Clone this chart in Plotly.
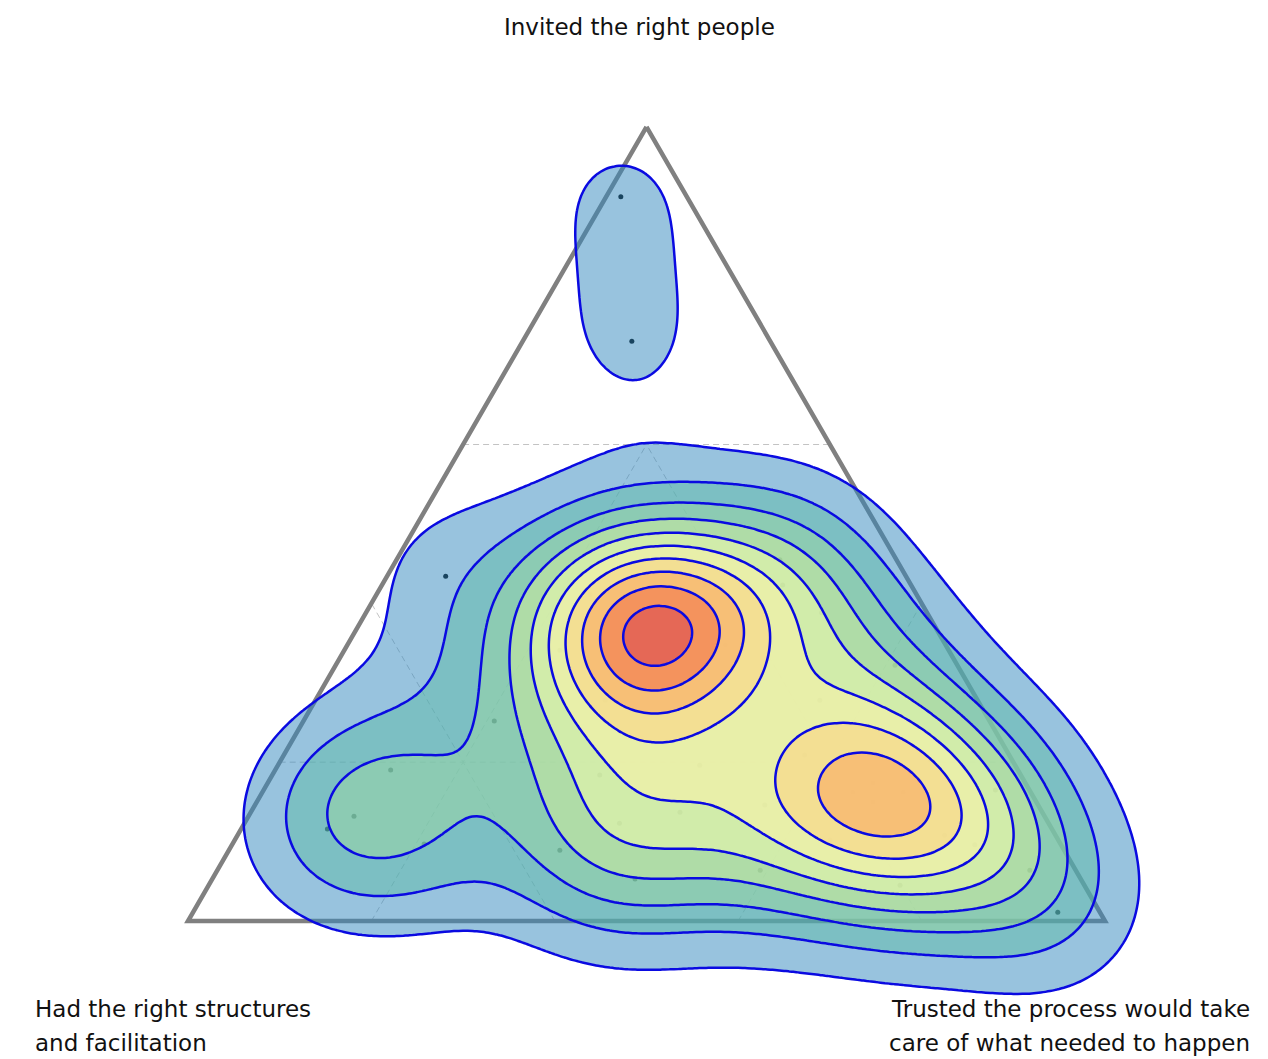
import numpy as np
import plotly.graph_objects as go

# ---------------- data (percent share of each corner, per respondent) -------------
invited = [91.2, 73.0, 43.4, 19.0, 13.2, 11.6, 9.7, 25.2,
           37.3, 35.3, 36.3, 36.3, 37.8, 34.8,
           34.1, 41.1, 27.8, 42.3, 34.8, 41.6, 42.3,
           19.6, 20.9, 14.6, 18.4,
           16.2, 16.2, 17.4, 15.0,
           38.8, 27.8, 20.3, 10.8, 10.2, 16.5, 32.2, 45.5,
           12.3, 5.3, 6.4, 8.9, 13.7,
           9.6, 1.1, 6.4, 4.5]
trusted = [1.6, 11.9, 6.4, 12.6, 11.5, 9.4, 20.9, 20.8,
           32.0, 34.0, 31.8, 34.2, 33.6, 32.4,
           23.5, 23.3, 31.6, 35.2, 41.2, 24.7, 43.7,
           46.0, 56.8, 55.6, 35.7,
           64.4, 69.9, 66.0, 67.2,
           49.7, 55.0, 70.8, 77.1, 64.9, 79.8, 61.0, 41.8,
           40.9, 46.1, 59.2, 36.1, 46.8,
           81.0, 94.3, 88.6, 75.4]
structures = [100 - a - b for a, b in zip(invited, trusted)]

TOP_LABEL = "Invited the right people"
LEFT_LABEL = ["Had the right structures", "and facilitation"]
RIGHT_LABEL = ["Trusted the process would take", "care of what needed to happen"]
N_LEVELS = 10

H = np.sqrt(3) / 2


def project(t, l, r):
    t = np.asarray(t, float); l = np.asarray(l, float); r = np.asarray(r, float)
    s = t + l + r
    t, r = t / s, r / s
    return r + t / 2, t * H


xs, ys = project(invited, structures, trusted)

# ---------------- kernel density ----------------
BW = 0.079
LEVEL_FACTOR = 0.965
gx = np.linspace(-0.07, 1.11, 237)
gy = np.linspace(-0.14, 0.88, 205)
GX, GY = np.meshgrid(gx, gy)
dens = np.zeros_like(GX)
for x0, y0 in zip(xs, ys):
    dens += np.exp(-((GX - x0) ** 2 + (GY - y0) ** 2) / (2 * BW ** 2))
kernel_peak = 1.0 / (len(xs) * 2 * np.pi * BW ** 2)
dens = (dens * kernel_peak).astype(np.float32)
step = LEVEL_FACTOR * kernel_peak

SPECTRAL_R = ['#5e4fa2', '#3288bd', '#66c2a5', '#abdda4', '#e6f598', '#ffffbf',
              '#fee08b', '#fdae61', '#f46d43', '#d53e4f', '#9e0142']


def cmap(p):
    cols = [tuple(int(c[i:i + 2], 16) for i in (1, 3, 5)) for c in SPECTRAL_R]
    pos = p * (len(cols) - 1)
    i = min(int(pos), len(cols) - 2)
    f = pos - i
    return tuple(round(cols[i][j] + (cols[i + 1][j] - cols[i][j]) * f) for j in range(3))


fig = go.Figure()

# dashed guide lines: (fixed component, value, range of invited share along the line)
GUIDES = [('t', 0.6, None), ('t', 0.2, None), ('l', 0.6, None), ('r', 0.6, None),
          ('l', 0.2, (0.0, 0.6)), ('r', 0.2, (0.0, 0.6))]
gxl, gyl = [], []
for comp, c, trange in GUIDES:
    if comp == 't':
        a, b = (c, 1 - c, 0), (c, 0, 1 - c)
    else:
        t0, t1 = trange if trange else (0.0, 1 - c)
        if comp == 'l':
            a, b = (t0, c, 1 - c - t0), (t1, c, 1 - c - t1)
        else:
            a, b = (t0, 1 - c - t0, c), (t1, 1 - c - t1, c)
    x1, y1 = project(*a)
    x2, y2 = project(*b)
    gxl += [float(x1), float(x2), None]
    gyl += [float(y1), float(y2), None]
fig.add_trace(go.Scatter(x=gxl, y=gyl, mode='lines', hoverinfo='skip',
                         line=dict(color='rgb(195,195,195)', width=1, dash='6px,4px')))

# triangle
corners = [(1, 0, 0), (0, 1, 0), (0, 0, 1), (1, 0, 0)]
tx, ty = zip(*[project(*c) for c in corners])
fig.add_trace(go.Scatter(x=[float(v) for v in tx], y=[float(v) for v in ty], mode='lines',
                         hoverinfo='skip', line=dict(color='rgb(128,128,128)', width=4.5)))

# points
fig.add_trace(go.Scatter(x=xs, y=ys, mode='markers', hoverinfo='skip',
                         marker=dict(color='black', size=5)))

# density contours (stacked translucent fills)
for k in range(1, N_LEVELS + 1):
    lev = k * step
    r, g, b = cmap(0.1 + (k - 1) * 0.8 / (N_LEVELS - 1))
    fig.add_trace(go.Contour(
        x=gx, y=gy, z=dens, xaxis='x2', yaxis='y2', autocontour=False,
        contours=dict(start=lev, end=lev, size=step, coloring='fill', showlines=True),
        colorscale=[[0, 'rgba(0,0,0,0)'], [1, f'rgba({r},{g},{b},0.5)']],
        showscale=False, hoverinfo='skip',
        line=dict(color='rgb(10,10,225)', width=2.5, smoothing=1)))

W, HT = 1268, 1059
XR = [-188 / 917, (W - 188) / 917]
YR = [-(HT - 921) / 917, 921 / 917]
font = dict(family='DejaVu Sans', size=23, color='#111111')

ann = [dict(text=TOP_LABEL, x=639 / W, y=1 - 27 / HT, xanchor='center', yanchor='middle')]
for i, t in enumerate(LEFT_LABEL):
    ann.append(dict(text=t, x=33 / W, y=1 - (1009 + 34 * i) / HT, xanchor='left', yanchor='middle'))
for i, t in enumerate(RIGHT_LABEL):
    ann.append(dict(text=t, x=1252 / W, y=1 - (1009 + 34 * i) / HT, xanchor='right', yanchor='middle'))
for a in ann:
    a.update(xref='paper', yref='paper', showarrow=False, font=font)

fig.update_layout(
    width=W, height=HT, margin=dict(l=0, r=0, t=0, b=0),
    paper_bgcolor='white', plot_bgcolor='white', showlegend=False,
    xaxis=dict(range=XR, visible=False, fixedrange=True),
    yaxis=dict(range=YR, visible=False, fixedrange=True),
    xaxis2=dict(range=XR, visible=False, overlaying='x', anchor='y2'),
    yaxis2=dict(range=YR, visible=False, overlaying='y', anchor='x2'),
    annotations=ann)

fig.write_html("out.html", config=dict(displayModeBar=False),
               post_script="document.body.style.margin='0px';document.body.style.overflow='hidden';")
